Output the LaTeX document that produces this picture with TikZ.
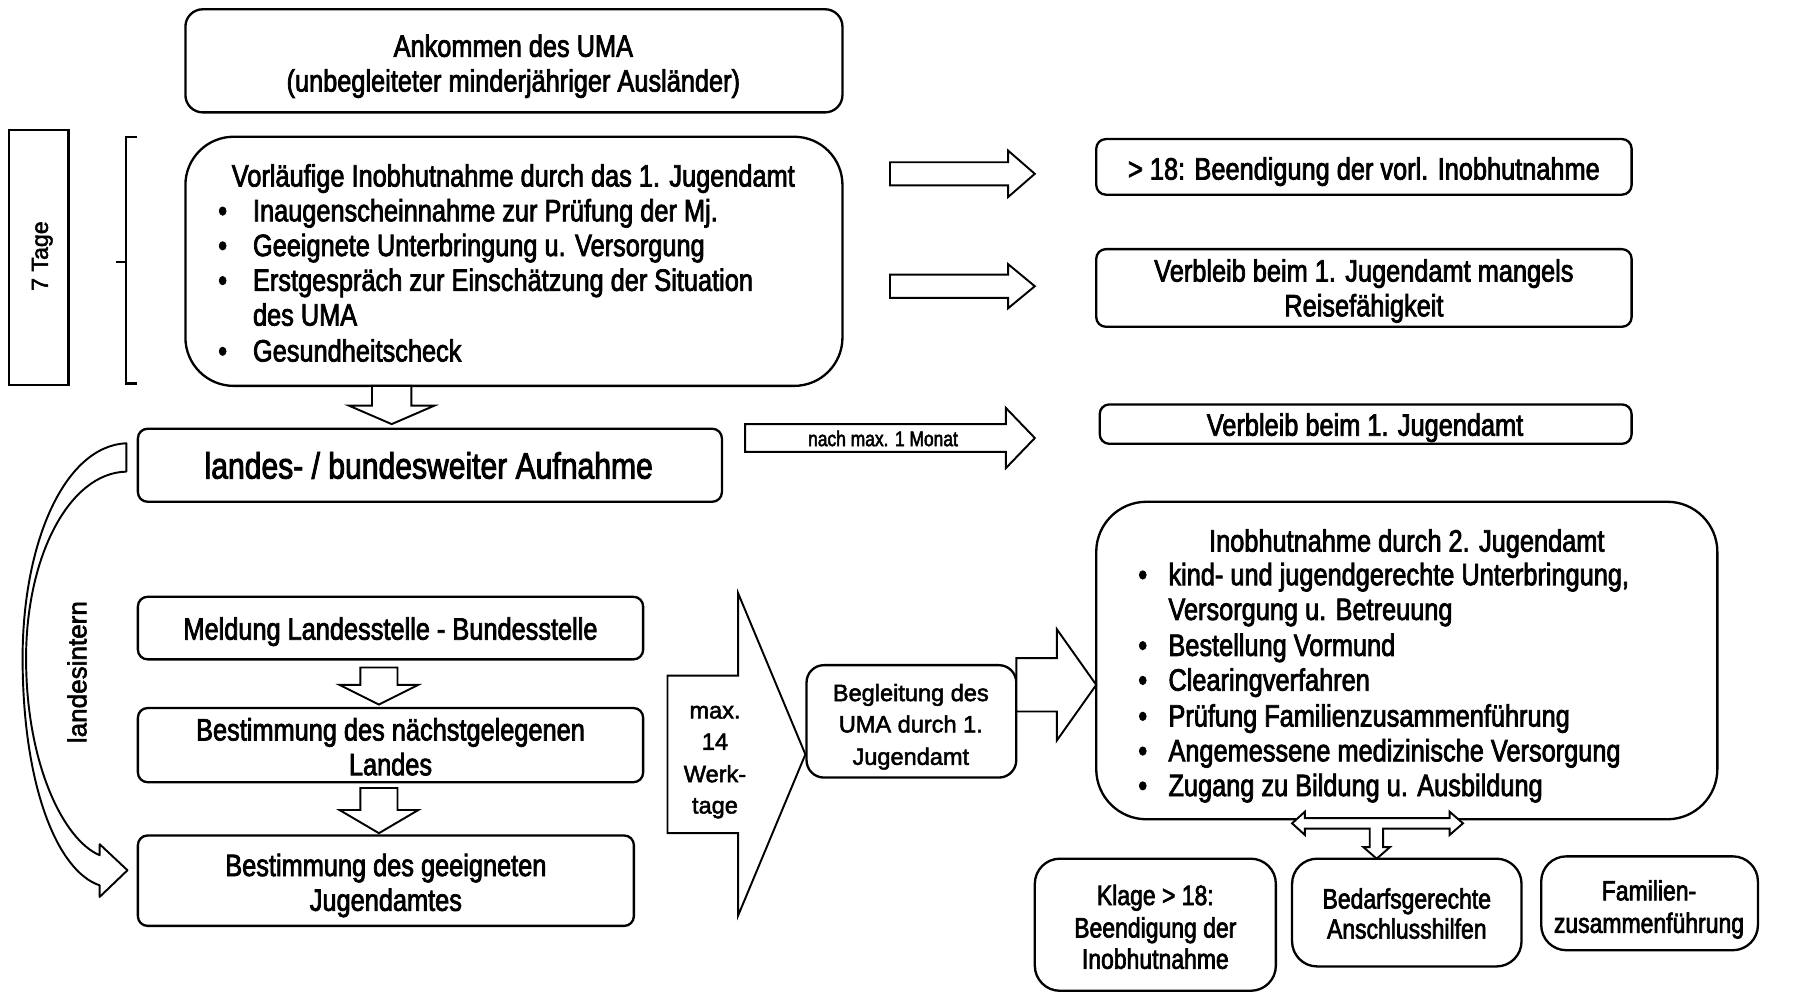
\documentclass[tikz,border=0pt]{standalone}
\usepackage{fontspec}
\setmainfont{Liberation Sans}[FakeBold=2.2]
\newfontfamily\narrowfont{Liberation Sans}[FakeStretch=0.82,FakeBold=2.4]
\newcommand\rarr[6]{%
 \draw[barrow] (#1,{#2-#5}) -- (#3,{#2-#5}) -- (#3,{#2-#6}) -- (#4,#2) -- (#3,{#2+#6}) -- (#3,{#2+#5}) -- (#1,{#2+#5}) -- cycle;}
\newcommand\darr[6]{%
 \draw[barrow] ({#1-#5},#2) -- ({#1-#5},#3) -- ({#1-#6},#3) -- (#1,#4) -- ({#1+#6},#3) -- ({#1+#5},#3) -- ({#1+#5},#2) -- cycle;}
\newcommand\mkbox[6][5pt]{%
 \node[box, rounded corners=#1, minimum width={(#5-#3)*0.6pt}, minimum height={(#6-#4)*0.6pt}] (#2) at ({(#3+#5)/2},{(#4+#6)/2}) {};}
\begin{document}
\begin{tikzpicture}[x=0.6pt,y=-0.6pt,
  box/.style={draw, line width=1.2pt, inner sep=0pt},
  barrow/.style={draw, line width=1pt, fill=white, line join=miter},
  nt/.style={font=\narrowfont\fontsize{16}{18}\selectfont, inner sep=0pt, anchor=base},
  ntl/.style={nt, anchor=base west},
  st/.style={font=\fontsize{12.2}{15}\selectfont, inner sep=0pt, anchor=base},
  bt/.style={font=\narrowfont\fontsize{14.5}{16}\selectfont, inner sep=0pt, anchor=base},
]
\useasboundingbox (0,0) rectangle (1568,857);
\fill[white] (0,0) rectangle (1568,857);

% top box
\mkbox[9pt]{ank}{160}{8}{727}{97}
\node[nt] (ank1) at (443,49) {Ankommen des UMA};
\node[nt] (ank2) at (443,79) {(unbegleiteter minderjähriger Ausländer)};

% 7 Tage
\node[box, rectangle, minimum width={51*0.6pt}, minimum height={220*0.6pt}] (tage) at (33.5,222) {};
\node[font=\fontsize{12}{14}\selectfont, rotate=90, inner sep=0pt] (tagetxt) at (36.5,221) {7 Tage};

% bracket
\draw[line width=1.2pt] (118,118) -- (109,118) -- (109,331) -- (118,331);
\draw[line width=1.2pt] (109,226) -- (100,226);

% box 2
\mkbox[25pt]{vorl}{160}{118}{727}{333}
\node[nt] (v0) at (443,161) {Vorläufige Inobhutnahme durch das 1. Jugendamt};
\foreach \yy/\txt [count=\i] in {191/Inaugenscheinnahme zur Prüfung der Mj.,221/Geeignete Unterbringung u. Versorgung,251/Erstgespräch zur Einschätzung der Situation,312/Gesundheitscheck}{
  \node[ntl] (vb\i) at (188,\yy) {•};
  \node[ntl] (v\i) at (218,\yy) {\txt};
}
\node[ntl] (v5) at (218,281) {des UMA};

% right arrows and boxes
\rarr{768}{150}{870}{893}{10}{20}
\rarr{768}{247}{870}{893}{10}{19}
\mkbox{r1}{946}{120}{1408}{168}
\node[nt] (r1t) at (1177,155) {> 18: Beendigung der vorl. Inobhutnahme};
\mkbox{r2}{946}{215}{1408}{282}
\node[nt] (r2a) at (1177,243) {Verbleib beim 1. Jugendamt mangels};
\node[nt] (r2b) at (1177,273) {Reisefähigkeit};
\mkbox{r3}{949}{349}{1408}{383}
\node[nt] (r3t) at (1178,376) {Verbleib beim 1. Jugendamt};

% down arrow
\darr{338}{333}{350}{366}{17}{37}

% landes box
\mkbox{land}{119}{370}{623}{433}
\node[nt, font=\narrowfont\fontsize{19}{22}\selectfont] (landt) at (370,413) {landes- / bundesweiter Aufnahme};

% nach max arrow
\rarr{643}{378}{868}{893}{12}{26}
\node[nt, font=\narrowfont\fontsize{11}{13}\selectfont] (nach) at (762,385) {nach max. 1 Monat};

% curved arrow
\draw[barrow, line join=round] (109,382.5) .. controls (55,385) and (19,470) .. (19.5,570)
  .. controls (20,680) and (50,752) .. (86,764) -- (86,774) -- (110,751) -- (86,728.5) -- (86,738)
  .. controls (55,725) and (23,660) .. (22.5,570) .. controls (22,480) and (60,408) .. (109,407) -- cycle;
\node[font=\fontsize{13.5}{16}\selectfont, rotate=90, inner sep=0pt] (landesintern) at (66.5,580) {landesintern};

% left column
\mkbox{meld}{119}{515}{555}{569}
\node[nt] (meldt) at (337,552) {Meldung Landesstelle - Bundesstelle};
\darr{327}{576}{591}{608}{16}{34}
\mkbox{best1}{119}{611}{555}{675}
\node[nt] (b1a) at (337,639) {Bestimmung des nächstgelegenen};
\node[nt] (b1b) at (337,669) {Landes};
\darr{327}{680}{699}{719}{16}{34}
\mkbox{best2}{119}{721}{547}{799}
\node[nt] (b2a) at (333,756) {Bestimmung des geeigneten};
\node[nt] (b2b) at (333,786) {Jugendamtes};

% max 14 arrow
\rarr{576}{651}{637}{695}{68}{139}
\node[st] (m1) at (617,620) {max.};
\node[st] (m2) at (617,647) {14};
\node[st] (m3) at (617,675) {Werk-};
\node[st] (m4) at (617,702) {tage};

% Begleitung
\mkbox[9pt]{begl}{696}{574}{877}{671}
\node[st] (bg1) at (786,605) {Begleitung des};
\node[st] (bg2) at (786,632) {UMA durch 1.};
\node[st] (bg3) at (786,660) {Jugendamt};
\rarr{877}{591}{912}{946}{23}{48}

% big box
\mkbox[26pt]{inob}{946}{433}{1482}{707}
\node[nt] (i0) at (1214,476) {Inobhutnahme durch 2. Jugendamt};
\foreach \yy/\txt [count=\i] in {505/{kind- und jugendgerechte Unterbringung,},566/Bestellung Vormund,596/Clearingverfahren,627/Prüfung Familienzusammenführung,657/Angemessene medizinische Versorgung,687/Zugang zu Bildung u. Ausbildung}{
  \node[ntl] (ib\i) at (982,\yy) {•};
  \node[ntl] (i\i) at (1008,\yy) {\txt};
}
\node[ntl] (i7) at (1008,535) {Versorgung u. Betreuung};

% T arrow
\draw[barrow] (1126,706) -- (1251,706) -- (1251,700.5) -- (1262.5,710.5) -- (1251,720.5) -- (1251,715)
  -- (1193.5,715) -- (1193.5,731) -- (1199.5,731) -- (1188,741) -- (1176.5,731) -- (1182,731) -- (1182,715)
  -- (1126,715) -- (1126,720.5) -- (1115,710.5) -- (1126,700.5) -- cycle;

% bottom boxes
\mkbox[13pt]{klage}{893}{741}{1101}{855}
\node[bt] (k1) at (997,781) {Klage > 18:};
\node[bt] (k2) at (997,809) {Beendigung der};
\node[bt] (k3) at (997,836) {Inobhutnahme};
\mkbox[13pt]{bed}{1115}{741}{1313}{834}
\node[bt] (bd1) at (1214,784) {Bedarfsgerechte};
\node[bt] (bd2) at (1214,810) {Anschlusshilfen};
\mkbox[13pt]{fam}{1330}{739}{1517}{820}
\node[bt] (f1) at (1423,777) {Familien-};
\node[bt] (f2) at (1423,805) {zusammenführung};
\end{tikzpicture}
\end{document}
